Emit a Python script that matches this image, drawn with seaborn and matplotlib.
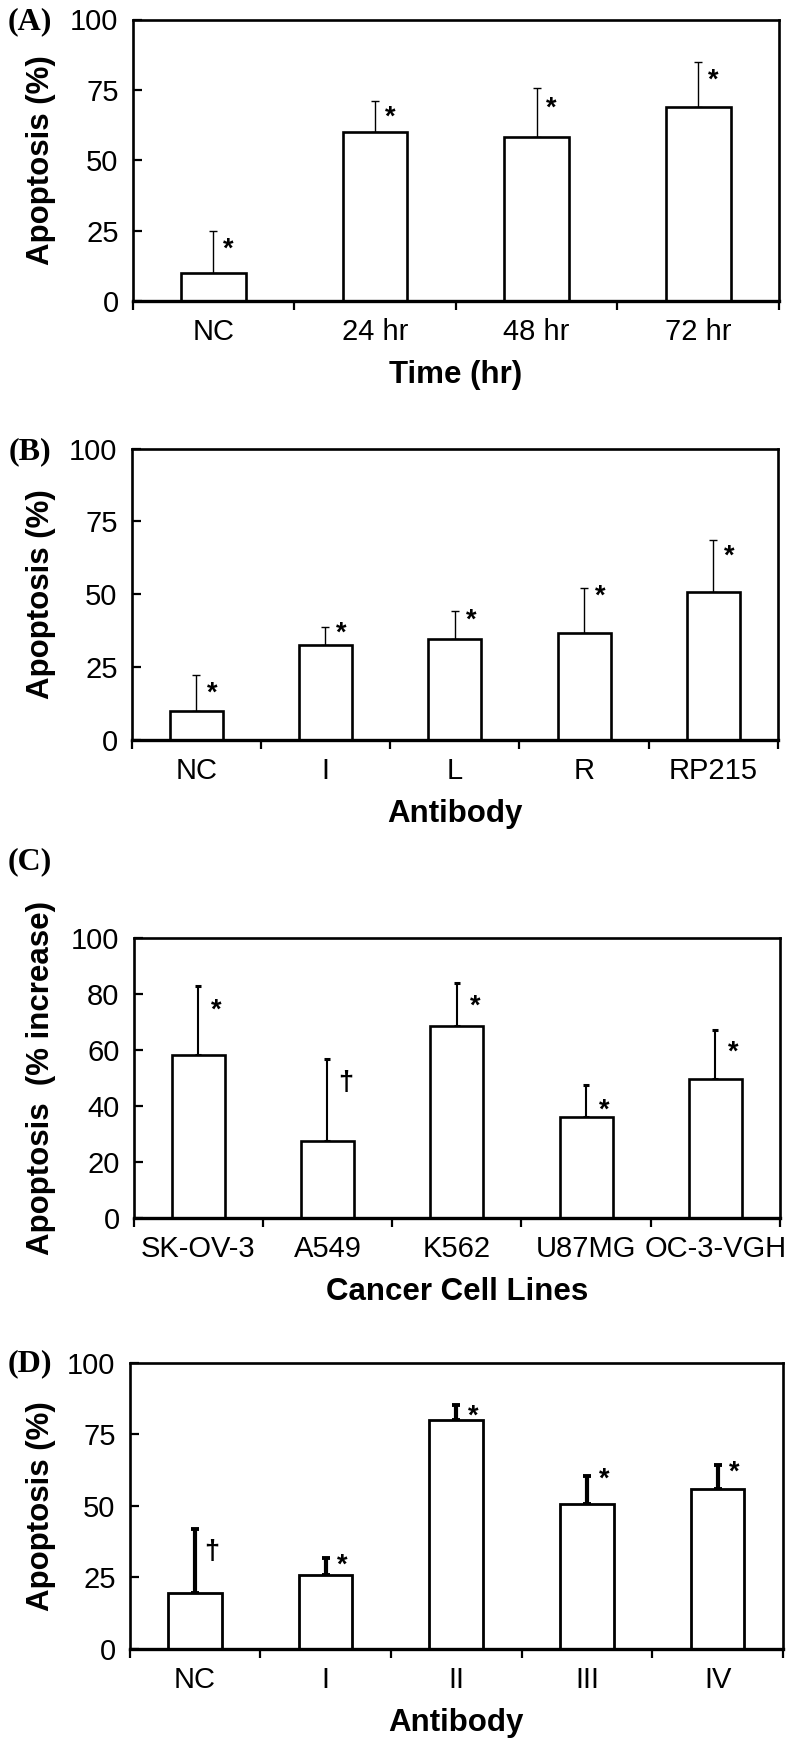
import numpy as np
import pandas as pd
import matplotlib
matplotlib.use("Agg")
import matplotlib.pyplot as plt
import seaborn as sns

# ---------------- data ----------------
a_cats = ["NC", "24 hr", "48 hr", "72 hr"]
a_vals = [10.0, 60.2, 58.2, 68.8]
a_errtop = [25.0, 71.0, 75.5, 84.9]
a_marks = ["*", "*", "*", "*"]

b_cats = ["NC", "I", "L", "R", "RP215"]
b_vals = [10.0, 32.6, 34.6, 36.7, 50.9]
b_errtop = [22.4, 38.6, 44.2, 52.2, 68.6]
b_marks = ["*", "*", "*", "*", "*"]

c_cats = ["SK-OV-3", "A549", "K562", "U87MG", "OC-3-VGH"]
c_vals = [58.2, 27.3, 68.3, 36.0, 49.6]
c_errtop = [82.8, 56.7, 83.9, 47.5, 67.2]
c_marks = ["*", "\u2020", "*", "*", "*"]

d_cats = ["NC", "I", "II", "III", "IV"]
d_vals = [19.7, 26.0, 79.9, 50.5, 55.9]
d_errtop = [41.9, 31.9, 85.1, 60.3, 64.2]
d_marks = ["\u2020", "*", "*", "*", "*"]

a_yticks = [0, 25, 50, 75, 100]
c_yticks = [0, 20, 40, 60, 80, 100]

sns.set_theme(style="white")
plt.rcParams["font.family"] = ["Liberation Sans", "DejaVu Sans"]

W, H = 786, 1743
fig = plt.figure(figsize=(W / 100, H / 100), dpi=100)

panels = [
    dict(tag="(A)", cats=a_cats, vals=a_vals, err=a_errtop, marks=a_marks,
         yt=a_yticks, ylabel="Apoptosis (%)", xlabel="Time (hr)",
         px=(132.5, 779, 19.5, 301), tagy=22, ew=1.0, cap=3.0, capw=1.0,
         dx=15, dy=[9, 7, 10, 9], bw=0.40, ebw=1.9),
    dict(tag="(B)", cats=b_cats, vals=b_vals, err=b_errtop, marks=b_marks,
         yt=a_yticks, ylabel="Apoptosis (%)", xlabel="Antibody",
         px=(131.5, 778, 448.5, 740), tagy=452, ew=1.0, cap=3.0, capw=1.0,
         dx=16, dy=[9, -4, 0, -1, 7], bw=0.41, ebw=1.9),
    dict(tag="(C)", cats=c_cats, vals=c_vals, err=c_errtop, marks=c_marks,
         yt=c_yticks, ylabel="Apoptosis  (% increase)", xlabel="Cancer Cell Lines",
         px=(133.5, 780, 937.5, 1218), tagy=862, ew=1.5, cap=2.5, capw=2.2,
         dx=18, dy=[15, 14, 14, 16, 13], bw=0.41, ebw=1.9),
    dict(tag="(D)", cats=d_cats, vals=d_vals, err=d_errtop, marks=d_marks,
         yt=a_yticks, ylabel="Apoptosis (%)", xlabel="Antibody",
         px=(129.5, 783, 1362.5, 1649), tagy=1364, ew=3.0, cap=3.2, capw=2.8,
         dx=17, dy=[13, -2, 2, -6, -2], bw=0.41, ebw=2.0),
]

for p in panels:
    l, r, t, b = p["px"]
    ax = fig.add_axes([l / W, 1 - b / H, (r - l) / W, (b - t) / H])
    n = len(p["cats"])
    df = pd.DataFrame({"cat": p["cats"], "val": p["vals"]})
    sns.barplot(data=df, x="cat", y="val", order=p["cats"], color="white",
                saturation=1, edgecolor="black", linewidth=p["ebw"],
                width=p["bw"], errorbar=None, ax=ax, zorder=2)
    xs = np.arange(n)
    vals = np.array(p["vals"])
    err = np.array(p["err"])
    ax.errorbar(xs, vals, yerr=[np.zeros(n), err - vals], fmt="none",
                ecolor="black", elinewidth=p["ew"], capsize=p["cap"],
                capthick=p["capw"], zorder=1)
    for i in range(n):
        ax.annotate(p["marks"][i], xy=(xs[i], err[i]),
                    xytext=(p["dx"] * 0.72, -p["dy"][i] * 0.72 - 7),
                    textcoords="offset points", ha="center", va="center",
                    fontsize=19.5, fontweight="bold", color="black")
    ax.set_xlim(-0.5, n - 0.5)
    ax.set_ylim(0, 100)
    ax.set_yticks(p["yt"])
    ax.set_yticklabels([str(v) for v in p["yt"]])
    ax.set_xticks(xs)
    ax.set_xticklabels(p["cats"])
    ax.set_xticks(np.arange(n + 1) - 0.5, minor=True)
    ax.tick_params(axis="x", which="major", length=0, pad=12, labelsize=21,
                   labelcolor="black")
    ax.tick_params(axis="x", which="minor", direction="out", length=6.5,
                   width=1.6, color="black", bottom=True)
    ax.tick_params(axis="y", which="major", direction="in", length=6.5,
                   width=1.6, color="black", pad=10, labelsize=21,
                   labelcolor="black", left=True)
    for s in ["left", "top", "right"]:
        ax.spines[s].set_visible(True)
        ax.spines[s].set_color("black")
        ax.spines[s].set_linewidth(1.9)
    ax.spines["bottom"].set_color("black")
    ax.spines["bottom"].set_linewidth(2.4)
    ax.grid(False)
    hpx = b - t
    wpx = r - l
    ax.set_xlabel(p["xlabel"], fontsize=22.5, fontweight="bold", va="center",
                  color="black")
    ax.xaxis.set_label_coords(0.5, -74 / hpx)
    ax.set_ylabel(p["ylabel"], fontsize=22.5, fontweight="bold", va="center",
                  color="black")
    ax.yaxis.set_label_coords((41 - l) / wpx, 0.5)
    fig.text(30 / W, 1 - p["tagy"] / H, p["tag"], fontsize=23,
             fontweight="bold", family=["Liberation Serif", "DejaVu Serif"],
             ha="center", va="center", color="black")

fig.savefig("out.png", dpi=100, facecolor="white")
